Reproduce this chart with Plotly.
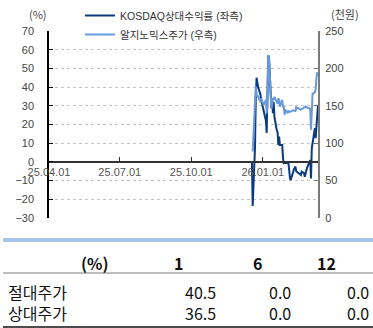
import plotly.graph_objects as go

W, H = 373, 328

# KOSDAQ-relative return (%, left axis)
rel_dates = [
    "2025-04-01", "2025-12-18", "2025-12-19", "2025-12-22", "2025-12-23", "2025-12-24",
    "2025-12-26", "2025-12-29", "2025-12-30", "2026-01-02", "2026-01-05", "2026-01-06",
    "2026-01-07", "2026-01-08", "2026-01-09", "2026-01-12", "2026-01-13", "2026-01-14",
    "2026-01-15", "2026-01-16", "2026-01-19", "2026-01-20", "2026-01-21", "2026-01-22",
    "2026-01-23", "2026-01-26", "2026-01-27", "2026-01-28", "2026-01-30", "2026-02-03",
    "2026-02-05", "2026-02-06", "2026-02-10", "2026-02-12", "2026-02-13", "2026-02-19",
    "2026-02-20", "2026-02-23", "2026-02-24", "2026-02-26", "2026-02-27", "2026-03-03",
    "2026-03-04", "2026-03-05", "2026-03-06", "2026-03-09", "2026-03-10", "2026-03-11",
    "2026-03-12", "2026-03-13",
]
rel_values = [
    0, 0, -23.6, 8, 35, 45,
    40, 36, 33, 28, 22, 15.5,
    30, 57, 55.5, 29, 33, 26,
    32, 24, 17, 16, 9, 13.5,
    9, 9, 2, -0.7, -0.5, -0.7,
    -8.8, -9.7, -4, -2.5, -5, -7,
    -5.2, -6, -7.9, -5.2, -3, 1,
    -8.8, 7.3, 10, 18, 12.7, 20,
    28, 30.5,
]

# Share price (thousand won, right axis)
px_dates = [
    "2025-12-19", "2025-12-22", "2025-12-23", "2025-12-24", "2025-12-26", "2025-12-29",
    "2025-12-30", "2026-01-02", "2026-01-05", "2026-01-06", "2026-01-07", "2026-01-08",
    "2026-01-09", "2026-01-12", "2026-01-13", "2026-01-14", "2026-01-15", "2026-01-16",
    "2026-01-19", "2026-01-20", "2026-01-21", "2026-01-22", "2026-01-23", "2026-01-26",
    "2026-01-27", "2026-01-28", "2026-01-29", "2026-01-30", "2026-02-02", "2026-02-03",
    "2026-02-05", "2026-02-09", "2026-02-12", "2026-02-13", "2026-02-19", "2026-02-23",
    "2026-02-25", "2026-02-26", "2026-03-03", "2026-03-04", "2026-03-05", "2026-03-06",
    "2026-03-09", "2026-03-10", "2026-03-11", "2026-03-12", "2026-03-13",
]
px_values = [
    89, 150, 176, 165, 162, 155,
    160, 151, 158, 140, 150, 218,
    213, 146, 150, 160, 158, 162,
    156, 153, 160, 158, 149, 158,
    148, 150, 138, 145, 140, 143,
    142, 144, 143, 148, 145, 148,
    149, 148, 146, 118, 160, 166,
    168, 172, 188, 194, 194,
]

x_ticks = ["2025-04-01", "2025-07-01", "2025-10-01", "2026-01-01"]

# Return table below the chart
table_header = ["1", "6", "12"]
table_rows = ["절대주가", "상대주가"]
abs_returns = [40.5, 0.0, 0.0]
rel_returns = [36.5, 0.0, 0.0]

DARK = "#0b3b7d"
LIGHT = "#6898dd"
FONT = "Liberation Sans, Noto Sans CJK KR, sans-serif"
KFONT = "Noto Sans CJK KR, sans-serif"


def fx(px):
    return px / W


def fy(py):
    return 1 - py / H


fig = go.Figure()
fig.add_trace(go.Scatter(
    x=rel_dates, y=rel_values, mode="lines", name="KOSDAQ상대수익률 (좌측)",
    line=dict(color=DARK, width=2), yaxis="y",
))
fig.add_trace(go.Scatter(
    x=px_dates, y=px_values, mode="lines", name="알지노믹스주가 (우측)",
    line=dict(color=LIGHT, width=2), yaxis="y2",
))

y_dom = [fy(218), fy(31)]
zero_pos = y_dom[0] + (0 - (-30)) / 100 * (y_dom[1] - y_dom[0])

fig.update_layout(
    width=W, height=H,
    margin=dict(l=0, r=0, t=0, b=0, autoexpand=False),
    paper_bgcolor="white", plot_bgcolor="white",
    font=dict(family=FONT, size=11, color="#444"),
    showlegend=True,
    legend=dict(
        x=fx(80), y=fy(1), xanchor="left", yanchor="top",
        bgcolor="white", borderwidth=0,
        font=dict(family=FONT, size=10.5, color="#333"),
        tracegroupgap=0, entrywidth=140, entrywidthmode="pixels",
    ),
    xaxis=dict(
        type="date", domain=[fx(49), fx(318)],
        range=["2025-04-01", "2026-03-13"],
        tickvals=x_ticks, tickformat="%y.%m.%d",
        anchor="free", position=zero_pos,
        ticks="inside", ticklen=4, tickcolor="#333",
        showline=True, linecolor="#333", linewidth=1.5,
        showgrid=False, zeroline=False, automargin=False,
        tickfont=dict(size=11, color="#555"),
    ),
    yaxis=dict(
        domain=y_dom, range=[-30, 70], dtick=10,
        ticks="inside", ticklen=4, tickcolor="#000",
        showline=True, linecolor="#000", linewidth=1.5,
        showgrid=True, gridcolor="#c4c4c4", griddash="dot", gridwidth=1,
        zeroline=False, automargin=False, tickfont=dict(size=11, color="#444"),
        ticklabelstandoff=11,
    ),
    yaxis2=dict(
        overlaying="y", side="right", range=[0, 250], dtick=50,
        ticks="inside", ticklen=4, tickcolor="#777",
        showline=True, linecolor="#7a7a7a", linewidth=2,
        showgrid=False, zeroline=False, anchor="x", automargin=False,
        tickfont=dict(size=11, color="#444"),
        ticklabelstandoff=3,
    ),
)

annotations = [
    dict(text="(%)", x=fx(38), y=fy(14), xanchor="center", yanchor="middle",
         font=dict(family=KFONT, size=11, color="#444")),
    dict(text="(천원)", x=fx(345), y=fy(14), xanchor="center", yanchor="middle",
         font=dict(family=KFONT, size=11, color="#444")),
]

# table header
annotations.append(dict(text="<b>(%)</b>", x=fx(111), y=fy(263), xanchor="right",
                        yanchor="middle", font=dict(family=KFONT, size=16, color="#111")))
head_x = [178, 257, 326]
for label, hx in zip(table_header, head_x):
    annotations.append(dict(text=f"<b>{label}</b>", x=fx(hx), y=fy(263), xanchor="center",
                            yanchor="middle", font=dict(family=KFONT, size=16, color="#111")))

# table body: one text block per column, rows separated by line breaks
body_y = fy(302)
annotations.append(dict(text="<br>".join(table_rows), x=fx(6), y=body_y, xanchor="left",
                        yanchor="middle", align="left",
                        font=dict(family=KFONT, size=16, color="#111")))
val_right = [218, 293, 371]
for col, vx in enumerate(val_right):
    col_text = "<br>".join(f"{row[col]:.1f}" for row in (abs_returns, rel_returns))
    annotations.append(dict(text=col_text, x=fx(vx), y=body_y, xanchor="right",
                            yanchor="middle", align="right",
                            font=dict(family=KFONT, size=16, color="#111")))

for a in annotations:
    a.update(xref="paper", yref="paper", showarrow=False)
fig.update_layout(annotations=annotations)

shapes = [
    dict(type="line", x0=fx(3), x1=1, y0=fy(240), y1=fy(240),
         line=dict(color="#a9c3ea", width=4)),
    dict(type="line", x0=fx(3), x1=1, y0=fy(273), y1=fy(273),
         line=dict(color="#a8a8a8", width=1.5)),
    dict(type="line", x0=fx(3), x1=1, y0=fy(327), y1=fy(327),
         line=dict(color="#111", width=1.5)),
]
for s in shapes:
    s.update(xref="paper", yref="paper")
fig.update_layout(shapes=shapes)

fig.write_html("out.html")
